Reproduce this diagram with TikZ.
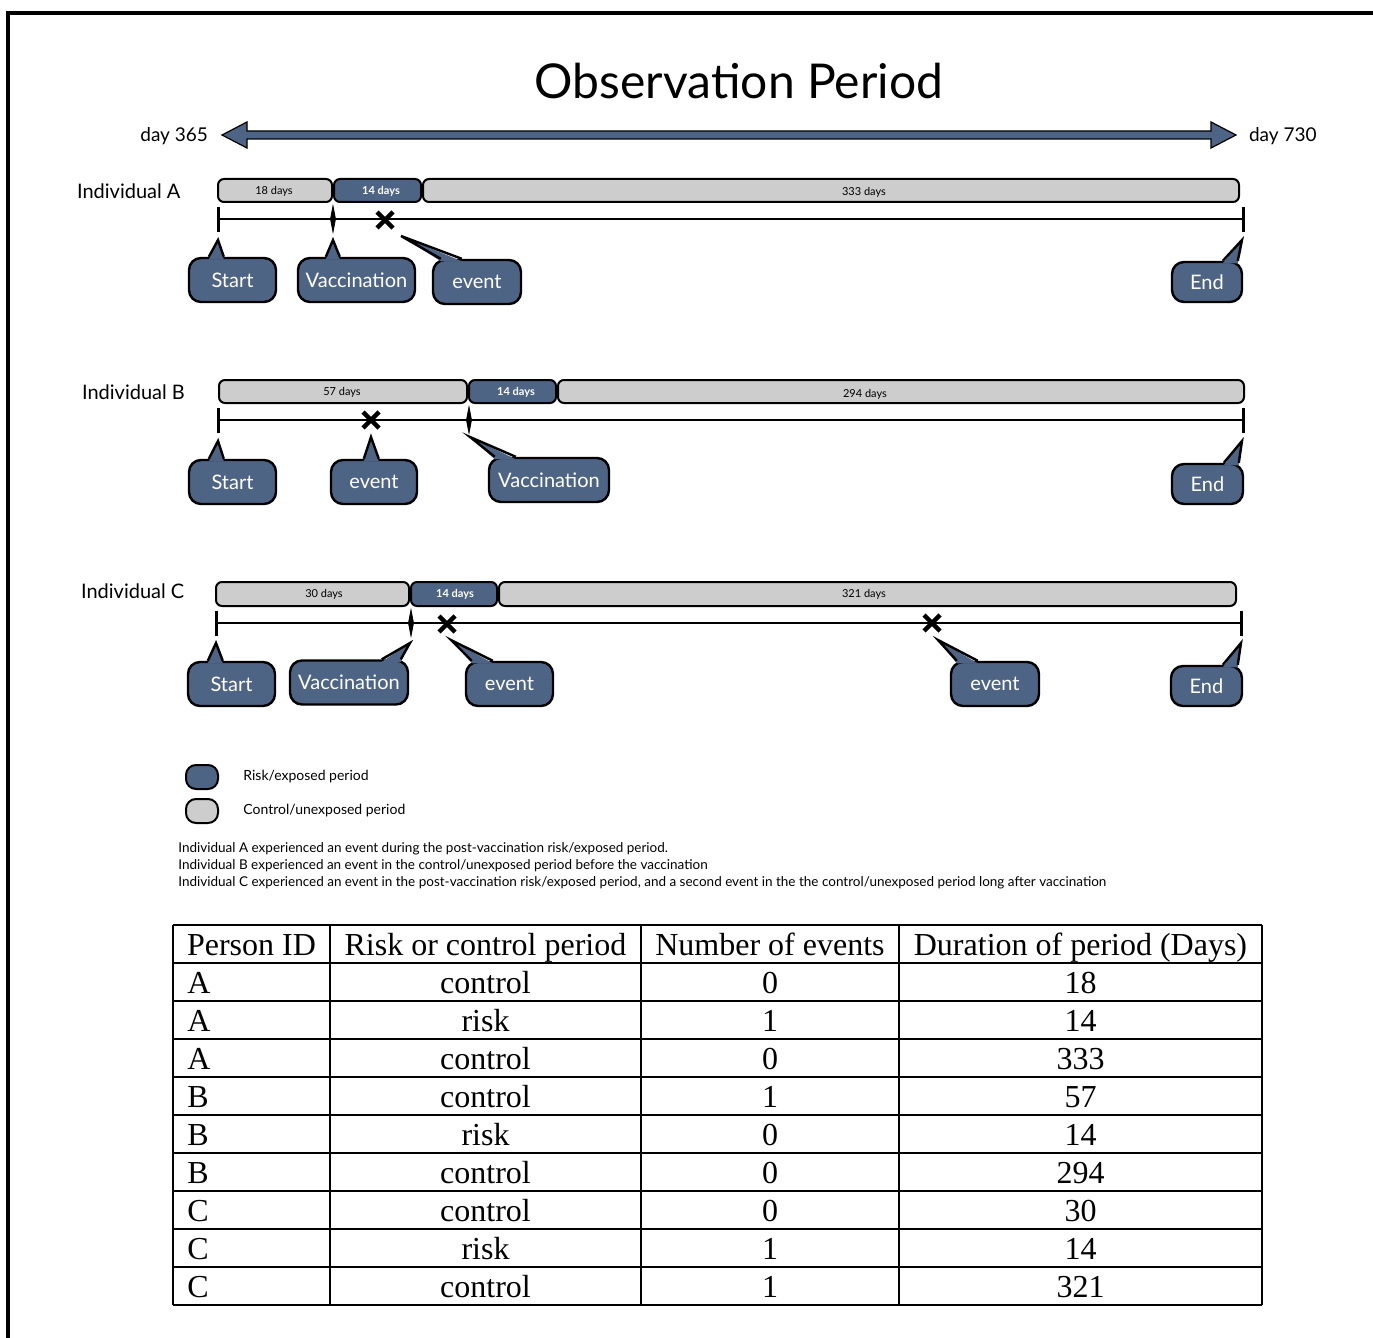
\documentclass[tikz,border=0pt]{standalone}
\usepackage{fontspec}
\setmainfont{Lato}
\newfontfamily\tabfont{Liberation Serif}
\usetikzlibrary{calc}
\definecolor{Slate}{HTML}{4E6485}
\definecolor{Shade}{HTML}{CDCDCD}

\begin{document}
\begin{tikzpicture}[x=0.5pt,y=-0.5pt,
  bubble/.style={draw=black,line width=1.2pt,fill=Slate,rounded corners=6pt,
    text=white,font=\fontsize{10}{12}\selectfont,minimum height=22pt,inner sep=0pt},
  pointer/.style={draw=black,line width=1.2pt,line join=miter},
  ctrl/.style={draw=black,line width=1pt,fill=Shade,rounded corners=3pt},
  risk/.style={draw=black,line width=1pt,fill=Slate,rounded corners=3pt},
  dayc/.style={font=\fontsize{5.5}{6}\selectfont},
  dayr/.style={font=\bfseries\fontsize{5.5}{6}\selectfont,text=white},
  who/.style={anchor=west,font=\fontsize{10}{12}\selectfont},
  axis/.style={line width=1.2pt},
  tick/.style={line width=1.5pt},
  cross/.style={line width=2.2pt},
  note/.style={anchor=west,font=\fontsize{6.75}{7}\selectfont,inner sep=0pt},
  grid/.style={line width=1pt},
  cell/.style={font=\tabfont\fontsize{16}{18}\selectfont,inner sep=0pt,
    text height=12.5pt,text depth=1.5pt}]
  \useasboundingbox (0,0) rectangle (1373,1338);
  \draw[line width=2pt] (8,1345) -- (8,13) -- (1380,13);

  % title and the year arrow
  \node[font=\fontsize{24}{28}\selectfont] (title) at (739,81) {Observation Period};
  \filldraw[fill=Slate,draw=black,line width=0.6pt] (222,135) -- (247,122) -- (247,131)
    -- (1211,131) -- (1211,122) -- (1236,135) -- (1211,148) -- (1211,139)
    -- (247,139) -- (247,148) -- cycle;
  \node[anchor=east,font=\fontsize{9.5}{11}\selectfont] (d365) at (215,136) {day 365};
  \node[anchor=west,font=\fontsize{9.5}{11}\selectfont] (d730) at (1242,136) {day 730};

  % Individual A
  \node[who] (indA) at (70,191) {Individual A};
  \draw[ctrl] (218,179) rectangle (332,202);
  \draw[risk] (334,179) rectangle (421,202);
  \draw[ctrl] (423,179) rectangle (1239,202);
  \node[dayc] (a1) at (274,191) {18 days};
  \node[dayr] (a2) at (381,191) {14 days};
  \node[dayc] (a3) at (864,192) {333 days};
  \coordinate (sA) at (218,219);
  \coordinate (vA) at (333,219);
  \coordinate (xA) at (385,220);
  \coordinate (eA) at (1243,219);
  \coordinate (tsA) at (218,240);
  \coordinate (tvA) at (333,240);
  \coordinate (txA) at (401,236);
  \coordinate (teA) at (1242,240);
  \draw[axis] (sA) -- (eA);
  \node[bubble,minimum width=43.5pt] (startA) at (232.5,280) {Start};
  \node[bubble,minimum width=58.5pt] (vacA) at (356.5,280) {Vaccination};
  \node[bubble,minimum width=44pt] (evA) at (477,282) {event};
  \node[bubble,minimum width=35pt,minimum height=20pt] (endA) at (1207,282) {End};

  % Individual B
  \node[who] (indB) at (75,392) {Individual B};
  \draw[ctrl] (219,380) rectangle (467,403);
  \draw[risk] (469,380) rectangle (556,403);
  \draw[ctrl] (558,380) rectangle (1244,403);
  \node[dayc] (b1) at (342,392) {57 days};
  \node[dayr] (b2) at (516,392) {14 days};
  \node[dayc] (b3) at (865,394) {294 days};
  \coordinate (sB) at (218,420);
  \coordinate (vB) at (469,420);
  \coordinate (xB) at (371,420);
  \coordinate (eB) at (1243,420);
  \coordinate (tsB) at (218,441);
  \coordinate (txB) at (371,437);
  \coordinate (tvB) at (470,437);
  \coordinate (teB) at (1242,441);
  \draw[axis] (sB) -- (eB);
  \node[bubble,minimum width=43.5pt] (startB) at (232.5,482) {Start};
  \node[bubble,minimum width=43pt] (evB) at (374,482) {event};
  \node[bubble,minimum width=60pt] (vacB) at (549,480) {Vaccination};
  \node[bubble,minimum width=35.5pt,minimum height=20pt] (endB) at (1207.5,484) {End};

  % Individual C
  \node[who] (indC) at (74,591) {Individual C};
  \draw[ctrl] (216,582) rectangle (409,606);
  \draw[risk] (411,582) rectangle (497,606);
  \draw[ctrl] (499,582) rectangle (1236,606);
  \node[dayc] (c1) at (324,594) {30 days};
  \node[dayr] (c2) at (455,594) {14 days};
  \node[dayc] (c3) at (864,594) {321 days};
  \coordinate (sC) at (216,623);
  \coordinate (vC) at (411,623);
  \coordinate (xC) at (447,624);
  \coordinate (xCC) at (932,623);
  \coordinate (eC) at (1241,623);
  \coordinate (tsC) at (216,643);
  \coordinate (tvC) at (410,643);
  \coordinate (txC) at (451,640);
  \coordinate (txCC) at (938,640);
  \coordinate (teC) at (1241,643);
  \draw[axis] (sC) -- (eC);
  \node[bubble,minimum width=43.5pt] (startC) at (231.5,684) {Start};
  \node[bubble,minimum width=59pt] (vacC) at (349,682.5) {Vaccination};
  \node[bubble,minimum width=43.5pt] (evC) at (509.5,684) {event};
  \node[bubble,minimum width=44pt] (evCC) at (995,684) {event};
  \node[bubble,minimum width=35.5pt,minimum height=20pt] (endC) at (1206.5,686) {End};

  % pointers of the bubbles: node / tip / base from / base to
  \foreach \n/\t/\a/\b in {startA/tsA/21/36,vacA/tvA/29/43,evA/txA/9/30,endA/teA/52/67,
      startB/tsB/21/36,evB/txB/34/49,vacB/tvB/7/28,endB/teB/53/68,
      startC/tsC/21/36,vacC/tvC/93/112,evC/txC/7/28,evCC/txCC/7/28,endC/teC/53/68}
  {
    \fill[Slate] ($(\n.north west)+(\a,2.5)$) -- (\t) -- ($(\n.north west)+(\b,2.5)$) -- cycle;
    \draw[pointer] ($(\n.north west)+(\a,0)$) -- (\t) -- ($(\n.north west)+(\b,0)$);
  }

  % ticks, vaccination marks and events
  \foreach \p in {sA,eA,sB,eB,sC,eC}
    \draw[tick] (\p) ++(0,-12) -- ++(0,25);
  \foreach \v in {vA,vB,vC}
    \filldraw (\v) ++(0,-13) -- ++(2.5,13) -- ++(-2.5,13) -- ++(-2.5,-13) -- cycle;
  \foreach \p in {xA,xB,xC,xCC}
    \draw[cross] (\p) ++(-8,-8) -- ++(16,16) (\p) ++(-8,8) -- ++(16,-16);

  % legend and notes
  \draw[risk,rounded corners=5pt] (186,765) rectangle (218,789);
  \draw[ctrl,rounded corners=5pt] (186,799) rectangle (218,823);
  \node[note,font=\fontsize{7}{8}\selectfont] (lr) at (243,777) {Risk/exposed period};
  \node[note,font=\fontsize{7}{8}\selectfont] (lc) at (243,811) {Control/unexposed period};
  \node[note] (nA) at (178,849) {Individual A experienced an event during the post-vaccination risk/exposed period.};
  \node[note] (nB) at (178,866) {Individual B experienced an event in the control/unexposed period before the vaccination};
  \node[note] (nC) at (178,883) {Individual C experienced an event in the post-vaccination risk/exposed period, and a second event in the the control/unexposed period long after vaccination};

  % table
  \foreach \x in {173,330,641,899,1262}
    \draw[grid] (\x,925) -- (\x,1305);
  \foreach \k in {0,...,10}
    \draw[grid] (173,{925+38*\k}) -- (1262,{925+38*\k});
  \foreach \x/\t [count=\i] in {251.5/Person ID,485.5/Risk or control period,
      770/Number of events,1080.5/Duration of period (Days)}
    \node[cell] (h\i) at (\x,944) {\t};
  \foreach \id/\kind/\n/\d [count=\k] in {A/control/0/18,A/risk/1/14,A/control/0/333,
      B/control/1/57,B/risk/0/14,B/control/0/294,C/control/0/30,C/risk/1/14,C/control/1/321}
  {
    \node[cell,anchor=west] (id\k) at (187,{944+38*\k}) {\id};
    \node[cell] (kind\k) at (485.5,{944+38*\k}) {\kind};
    \node[cell] (num\k) at (770,{944+38*\k}) {\n};
    \node[cell] (dur\k) at (1080.5,{944+38*\k}) {\d};
  }
\end{tikzpicture}
\end{document}
